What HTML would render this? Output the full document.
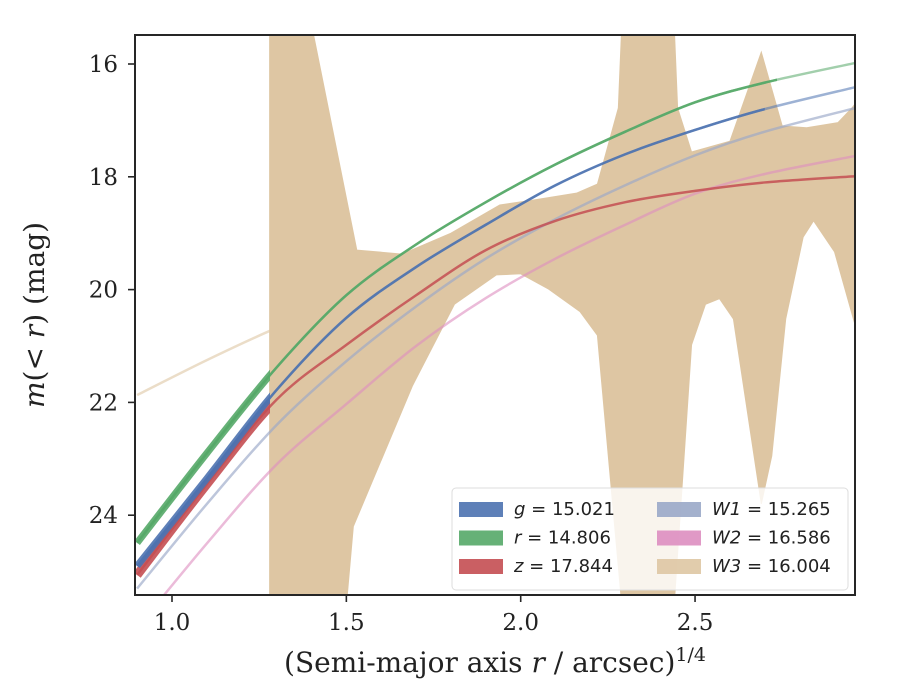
<!DOCTYPE html>
<html><head><meta charset="utf-8">
<style>
html,body{margin:0;padding:0;background:#fff;}
svg{display:block;}
.tick{font-family:"DejaVu Serif","Liberation Serif",serif;font-size:23px;fill:#222;}
.lab{font-family:"DejaVu Serif","Liberation Serif",serif;font-size:28px;fill:#222;}
.leg{font-family:"DejaVu Sans","Liberation Sans",sans-serif;font-size:18px;fill:#222;}
</style></head>
<body>
<svg id="chart" width="900" height="700" viewBox="0 0 900 700" xmlns="http://www.w3.org/2000/svg">
<defs>
<clipPath id="clip"><rect x="135" y="35" width="720" height="560"/></clipPath>
<clipPath id="clipL"><rect x="135" y="35" width="135" height="560"/></clipPath>
</defs>
<rect x="0" y="0" width="900" height="700" fill="#fff"/>
<g id="plot" clip-path="url(#clip)"></g>
<rect x="135" y="35" width="720" height="560" fill="none" stroke="#262626" stroke-width="2"/>
<g id="axes"></g>
<text class="lab" x="495" y="672" text-anchor="middle">(Semi-major axis <tspan font-style="italic">r</tspan> / arcsec)<tspan dy="-11" font-size="19">1/4</tspan></text>
<text class="lab" transform="translate(44,315) rotate(-90)" text-anchor="middle"><tspan font-style="italic">m</tspan>(&lt; <tspan font-style="italic">r</tspan>) (mag)</text>
<g>
<rect x="452" y="488" width="396" height="102" rx="4" fill="#fff" fill-opacity="0.8" stroke="#ddd"/>
<g id="legend"></g>
</g>
</svg>
<script>
const xTicks=[1.0,1.5,2.0,2.5];
const yTicks=[16,18,20,22,24];
const gridX=[0.9,1.1,1.3,1.5,1.7,1.9,2.1,2.3,2.5,2.7,2.96];
const gY=[24.9,23.35,21.78,20.5,19.6,18.85,18.15,17.6,17.17,16.8,16.41];
const rY=[24.49,22.9,21.38,20.1,19.2,18.45,17.78,17.2,16.68,16.33,15.98];
const zY=[25.06,23.45,21.95,20.98,20.1,19.3,18.78,18.45,18.25,18.1,17.99];
const w1Y=[25.3,23.8,22.4,21.27,20.3,19.45,18.75,18.15,17.62,17.2,16.78];
const w2Y=[26.0,24.5,23.1,22.03,21.0,20.15,19.45,18.85,18.3,17.95,17.63];
const w3Y=[21.87,21.25,20.68,20.2,19.8,19.42,19.05,18.7,18.4,18.15,17.9];
const bandUpX=[1.28,1.40,1.53,1.66,1.8,1.94,2.04,2.16,2.22,2.28,2.29,2.44,2.45,2.49,2.6,2.69,2.75,2.82,2.91,2.95,2.96];
const bandUpY=[15.3,15.3,19.3,19.37,19.0,18.5,18.41,18.29,18.13,16.78,15.3,15.3,16.78,17.56,17.37,15.79,17.1,17.13,17.04,16.78,16.7];
const bandLoX=[1.28,1.5,1.52,1.69,1.81,1.93,2.0,2.08,2.17,2.22,2.29,2.44,2.49,2.53,2.57,2.61,2.69,2.72,2.76,2.81,2.84,2.90,2.96];
const bandLoY=[25.6,25.6,24.2,21.7,20.26,19.74,19.72,19.99,20.39,20.81,25.6,25.6,20.98,20.26,20.16,20.52,23.8,22.95,20.52,19.07,18.78,19.33,20.65];
const legendLabels=[["g","15.021"],["r","14.806"],["z","17.844"],["W1","15.265"],["W2","16.586"],["W3","16.004"]];

const NS="http://www.w3.org/2000/svg";
const X=v=>172+(v-1)*348.7;
const Y=m=>64+(m-16)*56.4;
const plot=document.getElementById('plot');
const axes=document.getElementById('axes');
function mk(tag,attrs,parent){const e=document.createElementNS(NS,tag);for(const k in attrs)e.setAttribute(k,attrs[k]);parent.appendChild(e);return e;}
function smooth(xs,ys){
  const p=xs.map((x,i)=>[X(x),Y(ys[i])]);
  let d="M"+p[0][0]+","+p[0][1];
  for(let i=0;i<p.length-1;i++){
    const p0=p[Math.max(0,i-1)],p1=p[i],p2=p[i+1],p3=p[Math.min(p.length-1,i+2)];
    const c1=[p1[0]+(p2[0]-p0[0])/6,p1[1]+(p2[1]-p0[1])/6];
    const c2=[p2[0]-(p3[0]-p1[0])/6,p2[1]-(p3[1]-p1[1])/6];
    d+=" C"+c1[0]+","+c1[1]+" "+c2[0]+","+c2[1]+" "+p2[0]+","+p2[1];
  }
  return d;
}
let bd="M"+bandUpX.map((x,i)=>X(x)+","+Y(bandUpY[i])).join(" L");
bd+=" L"+bandLoX.slice().reverse().map((x,i)=>X(x)+","+Y(bandLoY[bandLoY.length-1-i])).join(" L")+" Z";
const band=mk('path',{d:bd,fill:'#dec6a3',stroke:'#dec6a3','stroke-width':1},plot);



const series=[
 {n:'w3-line',ys:w3Y,c:'#dec6a3',w:2.5,o:0.6,thick:0,fade:0},
 {n:'w2-line',ys:w2Y,c:'#dd8ec0',w:2.5,o:0.6,thick:0,fade:0},
 {n:'w1-line',ys:w1Y,c:'#9aa8c8',w:2.5,o:0.65,thick:0,fade:0},
 {n:'z-line',ys:zY,c:'#c44e52',w:2.5,o:0.85,thick:9,fade:0},
 {n:'g-line',ys:gY,c:'#4c72b0',w:2.5,o:0.85,thick:7,fade:2.7},
 {n:'r-line',ys:rY,c:'#55a868',w:2.5,o:0.9,thick:7,fade:2.735}
];
series.forEach(s=>{
  const d=smooth(gridX,s.ys);
  const p=mk('path',{d:d,fill:'none',stroke:s.c,'stroke-width':s.w,'stroke-opacity':s.fade?0.55:s.o},plot);
  
  
  if(s.fade){
    const cid='cf'+s.n;
    const cp=mk('clipPath',{id:cid},plot);
    mk('rect',{x:135,y:35,width:X(s.fade)-135,height:560},cp);
    const q=mk('path',{d:d,fill:'none',stroke:s.c,'stroke-width':s.w,'stroke-opacity':s.o,'clip-path':'url(#'+cid+')'},plot);
    
    
  }
  if(s.thick){
    const t=mk('path',{d:d,fill:'none',stroke:s.c,'stroke-width':s.thick,'stroke-opacity':0.9,'clip-path':'url(#clipL)'},plot);
    
    
  }
});
xTicks.forEach(v=>{
  const l=mk('line',{x1:X(v),x2:X(v),y1:595,y2:602,stroke:'#262626','stroke-width':1.6},axes);
  
  
  const t=mk('text',{x:X(v),y:630,'text-anchor':'middle',class:'tick'},axes);
  t.textContent=v.toFixed(1);
  
  
});
yTicks.forEach(m=>{
  const l=mk('line',{x1:128,x2:135,y1:Y(m),y2:Y(m),stroke:'#262626','stroke-width':1.6},axes);
  
  
  const t=mk('text',{x:118,y:Y(m)+8,'text-anchor':'end',class:'tick'},axes);
  t.textContent=m;
  
  
});
const legColors=['#4c72b0','#55a868','#c44e52','#9aa8c8','#dd8ec0','#dec6a3'];
const leg=document.getElementById('legend');
legendLabels.forEach((lb,i)=>{
  const col=Math.floor(i/3),row=i%3;
  const px=col?657:459, ty=509+row*28.5;
  const r=mk('rect',{x:px,y:ty-7,width:44,height:15,fill:legColors[i],'fill-opacity':0.9},leg);
  
  
  const t=mk('text',{x:px+55,y:ty+6,class:'leg'},leg);
  t.innerHTML='<tspan font-style="italic">'+lb[0]+'</tspan> = '+lb[1];
  
  
});
</script>
</body></html>
